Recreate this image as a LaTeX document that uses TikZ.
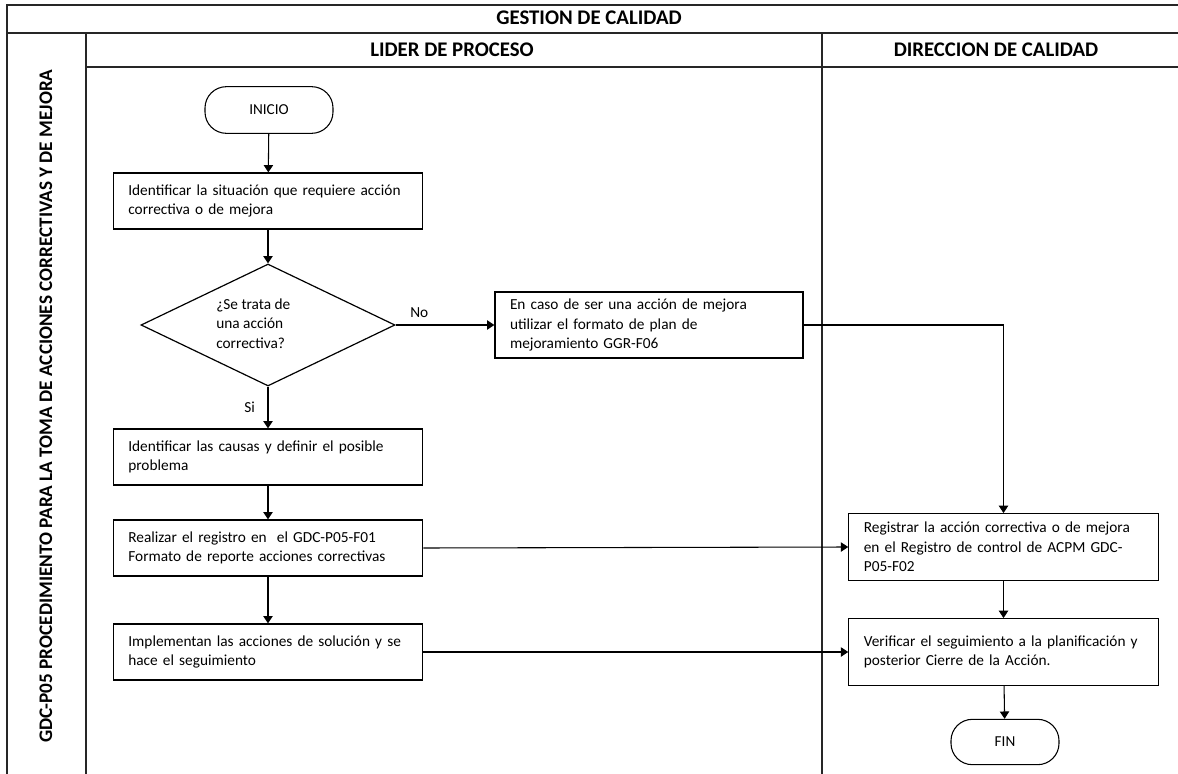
\documentclass[tikz,border=0pt]{standalone}
\usepackage{fontspec}
\setmainfont{Carlito}
\usetikzlibrary{arrows.meta,shapes.geometric}

\begin{document}
\begin{tikzpicture}[x=0.75pt,y=-0.75pt,line width=0.8pt,>={Triangle[length=5.5pt,width=7pt]},
  lane/.style={line width=1.2pt,draw=black!85},
  hdr/.style={font=\fontsize{15.6}{18}\selectfont\bfseries},
  proc/.style={draw,line width=0.9pt,align=left,text width=209.5pt,minimum height=42pt,inner xsep=11.25pt,font=\fontsize{11.5}{14.6}\selectfont},
  term/.style={draw,line width=0.8pt,rounded corners=16pt,minimum width=96pt,minimum height=35pt,font=\fontsize{11.4}{13}\selectfont},
  deci/.style={draw,diamond,aspect=2.08,line width=0.9pt,inner sep=0pt,minimum width=190.5pt,minimum height=91.5pt,font=\fontsize{11.5}{14.6}\selectfont},
  lbl/.style={font=\fontsize{11.5}{13}\selectfont}]
\useasboundingbox (0,0) rectangle (1178,774);
% ---------- swimlane frame ----------
\draw[lane] (7,774) -- (7,5) -- (1178,5);
\draw[lane] (7,33) -- (1178,33);
\draw[lane] (86,67) -- (1178,67);
\draw[lane] (86,33) -- (86,774);
\draw[lane] (822,33) -- (822,774);
\node[hdr] (tgestion) at (589,18) {GESTION DE CALIDAD};
\node[hdr] (tlider) at (452,50) {LIDER DE PROCESO};
\node[hdr] (tdireccion) at (996,50) {DIRECCION DE CALIDAD};
\node[hdr,font=\fontsize{14.4}{16}\selectfont\bfseries,rotate=90] (tproc) at (46,406) {GDC-P05 PROCEDIMIENTO PARA LA TOMA DE ACCIONES CORRECTIVAS Y DE MEJORA};
% ---------- lider de proceso ----------
\node[term] (inicio) at (269,110) {INICIO};
\node[proc] (ident) at (268,201) {Identificar la situación que requiere acción\\correctiva o de mejora};
\node[deci] (tipo) at (268,325) {\begin{tabular}{@{}l@{\hspace{22pt}}}¿Se trata de\\una acción\\correctiva?\end{tabular}};
\node[proc,text width=208.5pt,minimum height=49.5pt] (mejora) at (649,325) {En caso de ser una acción de mejora\\utilizar el formato de plan de\\mejoramiento GGR-F06};
\node[proc] (causas) at (268,457) {Identificar las causas y definir el posible\\problema};
\node[proc] (regis) at (268,548) {Realizar el registro en\ \ el GDC-P05-F01\\Formato de reporte acciones correctivas};
\node[proc] (impl) at (268,652) {Implementan las acciones de solución y se\\hace el seguimiento};
% ---------- direccion de calidad ----------
\node[proc,minimum height=50pt] (acpm) at (1003.5,547) {Registrar la acción correctiva o de mejora\\en el Registro de control de ACPM GDC-\\P05-F02};
\node[proc,minimum height=50pt] (verif) at (1003.5,652) {Verificar el seguimiento a la planificación y\\posterior Cierre de la Acción.};
\node[term,minimum width=81pt,minimum height=34pt] (fin) at (1005,742) {FIN};
% ---------- connectors ----------
\draw[->] (inicio) -- (ident);
\draw[->] (ident) -- (tipo);
\draw[->] (tipo.south) -- node[lbl,left,xshift=-6pt] {Si} (causas);
\draw[->] (tipo.east) -- node[lbl,above,pos=0.24,yshift=2pt] {No} (mejora);
\draw[->] (mejora.east) -| (acpm.north);
\draw[->] (causas) -- (regis);
\draw[->] (regis) -- (impl);
\draw[->] (regis.east) -- (acpm.west);
\draw[->] (impl.east) -- (verif.west);
\draw[->] (acpm) -- (verif);
\draw[->] (verif) -- (fin);
\end{tikzpicture}
\end{document}
